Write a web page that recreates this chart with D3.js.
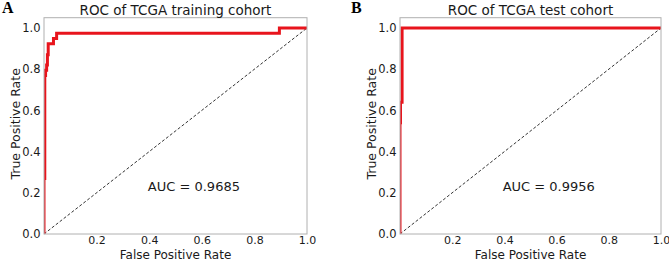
<!DOCTYPE html>
<html>
<head>
<meta charset="utf-8">
<script src="https://cdn.jsdelivr.net/npm/d3@7"></script>
<style>
  body { margin: 0; background: #fff; }
  svg { display: block; font-family: "DejaVu Sans", sans-serif; }
</style>
</head>
<body>
<div id="chart"></div>
<script>
// ROC curve corners
const trainFpr = [0, 0, 0.003, 0.003, 0.006, 0.006, 0.010, 0.010, 0.013, 0.013, 0.016, 0.016, 0.036, 0.036, 0.048, 0.048, 0.895, 0.895, 1.0];
const trainTpr = [0, 0.27, 0.27, 0.77, 0.77, 0.795, 0.795, 0.82, 0.82, 0.87, 0.87, 0.923, 0.923, 0.949, 0.949, 0.974, 0.974, 1.0, 1.0];
const testFpr = [0, 0, 0.002, 0.002, 0.008, 0.008, 1.0];
const testTpr = [0, 0.54, 0.54, 0.64, 0.64, 1.0, 1.0];

const xTicks = [0.2, 0.4, 0.6, 0.8, 1.0];
const yTicks = [0.0, 0.2, 0.4, 0.6, 0.8, 1.0];

const panels = [
  { letter: "A", title: "ROC of TCGA training cohort", auc: "AUC = 0.9685", fpr: trainFpr, tpr: trainTpr, left: 44, right: 307, letterX: 2 },
  { letter: "B", title: "ROC of TCGA test cohort", auc: "AUC = 0.9956", fpr: testFpr, tpr: testTpr, left: 400, right: 661, letterX: 351 }
];

const W = 669, H = 260;
const svg = d3.select("#chart").append("svg")
  .attr("width", W)
  .attr("height", H);

panels.forEach(function (p, i) {
  let top = 17.7, bottom = 234;

  let x = d3.scaleLinear().domain([0, 1]).range([p.left, p.right]);
  let y = d3.scaleLinear().domain([0, 1.05]).range([bottom, top]);

  let g = svg.append("g");

  // clip to axes box like matplotlib
  g.append("clipPath")
    .attr("id", "clip" + i)
    .append("rect")
    .attr("x", p.left).attr("y", top)
    .attr("width", p.right - p.left).attr("height", bottom - top);

  // diagonal reference
  g.append("line")
    .attr("x1", x(0)).attr("y1", y(0))
    .attr("x2", x(1)).attr("y2", y(1))
    .attr("stroke", "#000")
    .attr("stroke-width", 0.8)
    .attr("stroke-dasharray", "3,2");

  // ROC curve
  let pts = p.fpr.map((f, k) => [f, p.tpr[k]]);
  let line = d3.line().x(d => x(d[0])).y(d => y(d[1]));
  g.append("path")
    .datum(pts)
    .attr("clip-path", "url(#clip" + i + ")")
    .attr("d", line)
    .attr("fill", "none")
    .attr("stroke", "#e8141c")
    .attr("stroke-width", 3)
    .attr("stroke-linejoin", "miter");

  // frame
  g.append("rect")
    .attr("x", p.left).attr("y", top)
    .attr("width", p.right - p.left).attr("height", bottom - top)
    .attr("fill", "none")
    .attr("stroke", "#b0b0b0")
    .attr("stroke-width", 1);

  // axes (no tick marks, labels only)
  let xAxis = d3.axisBottom(x).tickValues(xTicks).tickSize(0).tickPadding(2).tickFormat(d3.format(".1f"));
  let yAxis = d3.axisLeft(y).tickValues(yTicks).tickSize(0).tickPadding(3.5).tickFormat(d3.format(".1f"));

  let gx = g.append("g").attr("transform", "translate(0," + bottom + ")").call(xAxis);
  let gy = g.append("g").attr("transform", "translate(" + p.left + ",0)").call(yAxis);
  [gx, gy].forEach(a => {
    a.select(".domain").remove();
    a.selectAll("text")
      .attr("fill", "#1a1a1a")
      .style("font-family", "DejaVu Sans")
      .style("font-size", "11.5px");
  });
  gx.selectAll("text").style("font-size", "11px");

  // title
  g.append("text")
    .attr("x", (p.left + p.right) / 2)
    .attr("y", 14.5)
    .attr("text-anchor", "middle")
    .style("font-size", "13.5px")
    .attr("fill", "#1a1a1a")
    .text(p.title);

  // axis labels
  g.append("text")
    .attr("x", (p.left + p.right) / 2)
    .attr("y", 258.5)
    .attr("text-anchor", "middle")
    .style("font-size", "12px")
    .attr("fill", "#1a1a1a")
    .text("False Positive Rate");

  g.append("text")
    .attr("transform", "translate(" + (p.left - 24) + "," + ((top + bottom) / 2 - 2) + ") rotate(-90)")
    .attr("text-anchor", "middle")
    .style("font-size", "12.5px")
    .attr("fill", "#1a1a1a")
    .text("True Positive Rate");

  // AUC annotation
  g.append("text")
    .attr("x", x(0.57))
    .attr("y", y(0.21))
    .attr("text-anchor", "middle")
    .style("font-size", "13px")
    .attr("fill", "#1a1a1a")
    .text(p.auc);

  // panel letter
  g.append("text")
    .attr("x", p.letterX)
    .attr("y", 13)
    .style("font-family", "Liberation Serif, serif")
    .style("font-weight", "bold")
    .style("font-size", "16px")
    .attr("fill", "#000")
    .text(p.letter);
});
</script>
</body>
</html>
